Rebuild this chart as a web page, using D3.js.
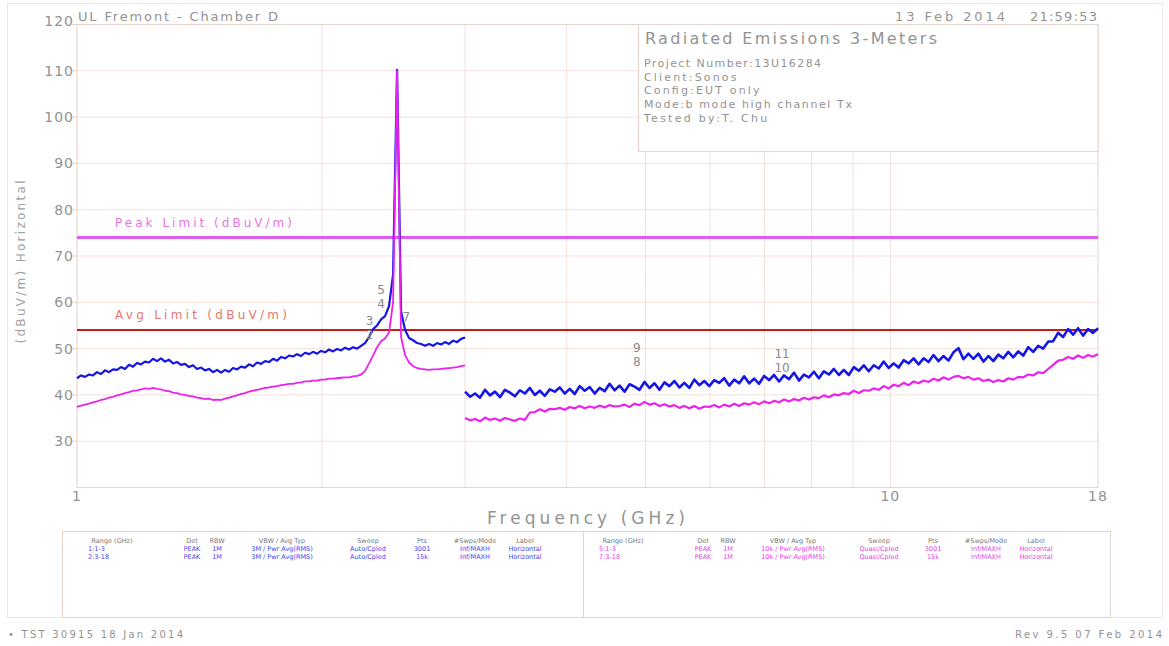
<!DOCTYPE html>
<html>
<head>
<meta charset="utf-8">
<script src="https://d3js.org/d3.v7.min.js"></script>
<style>
  body { margin: 0; background: #fff; }
  text { font-family: "DejaVu Sans", sans-serif; fill: #939393; }
</style>
</head>
<body>
<div id="chart"></div>
<script>
// ---- data ----
var yTicks = [30, 40, 50, 60, 70, 80, 90, 100, 110, 120]
var xTickLabels = [1, 10, 18]
var gridFreqs = [2, 3, 4, 5, 6, 7, 8, 9, 10]
var peakLimit = 74
var avgLimit = 54

// sweep ranges (GHz)
var range1 = [1, 3]
var range2 = [3, 18]

// peak trace, 1-3 GHz (dBuV/m)
var peak1 = [43.6,44.2,43.9,44.4,44.2,44.9,44.5,45.3,44.9,45.5,45.4,46.0,45.6,46.5,46.1,46.9,46.6,47.2,47.0,47.8,
  47.3,47.9,47.2,47.6,46.8,47.1,46.5,46.7,46.0,46.4,45.6,45.9,45.3,45.6,44.9,45.4,44.8,45.4,45.0,45.8,
  45.5,46.1,45.9,46.6,46.2,47.0,46.7,47.3,47.1,47.8,47.4,48.2,47.9,48.5,48.3,48.8,48.4,49.1,48.8,49.3,
  48.9,49.5,49.2,49.8,49.4,49.9,49.6,50.2,49.8,50.3,50.0,50.6,51.2,52.5,54.2,55.0,56.3,57.0,59.2,66.0,
  110.2,58.0,54.0,52.3,51.8,51.2,51.0,50.6,51.0,50.6,51.2,50.9,51.4,51.0,51.7,51.4,52.1,52.4]

// average trace, 1-3 GHz
var avg1 = [37.4,37.7,37.9,38.1,38.4,38.6,38.9,39.1,39.4,39.6,39.9,40.1,40.4,40.6,40.9,41.0,41.2,41.4,41.3,41.5,
  41.3,41.2,40.9,40.8,40.5,40.4,40.1,40.0,39.8,39.7,39.4,39.3,39.1,39.2,38.9,39.0,38.9,39.2,39.4,39.7,
  39.9,40.2,40.4,40.7,40.9,41.1,41.3,41.5,41.6,41.8,41.9,42.1,42.2,42.4,42.4,42.6,42.7,42.9,42.9,43.1,
  43.1,43.3,43.3,43.5,43.5,43.6,43.7,43.8,43.8,44.0,44.1,44.4,45.2,46.8,48.5,50.3,51.6,52.2,53.5,60.0,
  110.0,52.5,48.6,47.0,46.2,45.8,45.6,45.5,45.4,45.5,45.5,45.6,45.7,45.8,45.9,46.0,46.2,46.4]

// peak trace, 3-18 GHz
var peak2 = [40.7,39.6,40.3,39.4,41.1,39.9,40.7,39.5,41.1,40.5,39.7,41.0,40.3,41.5,40.0,40.9,39.8,41.2,40.7,41.6,
  40.3,41.3,40.2,41.9,40.9,41.7,40.3,41.5,40.8,42.4,41.0,42.0,40.7,42.3,41.8,41.1,42.8,41.5,42.5,41.1,
  42.7,41.9,43.0,41.6,42.6,41.5,43.3,42.1,43.0,41.9,43.2,42.6,43.6,42.0,43.3,42.5,44.0,42.5,43.5,42.4,
  44.1,43.2,44.3,42.9,44.2,43.4,44.8,43.1,44.4,43.8,45.0,43.6,45.1,44.4,45.6,44.3,45.4,44.3,46.0,45.2,
  46.4,45.1,46.4,45.7,47.2,45.8,46.8,45.9,47.5,46.8,47.9,46.6,47.9,47.1,48.6,47.3,48.4,47.4,49.2,50.1,
  47.7,48.9,47.8,48.9,47.2,48.4,47.3,48.7,47.9,49.3,48.1,49.4,48.5,50.3,49.3,50.6,50.0,51.5,51.6,53.4,
  52.5,54.2,53.0,54.4,52.8,54.2,53.4,54.4]

// average trace, 3-18 GHz
var avg2 = [35.0,34.5,34.8,34.3,35.1,34.6,34.9,34.4,35.0,34.7,34.4,34.9,34.6,36.2,36.3,36.9,36.4,37.0,36.9,37.2,
  36.8,37.4,37.1,37.6,37.1,37.5,37.2,37.7,37.3,37.8,37.5,37.6,37.9,37.4,38.1,37.8,38.5,37.9,38.2,37.6,
  38.0,37.5,37.8,37.2,37.6,37.1,37.6,37.0,37.5,37.4,37.8,37.3,37.9,37.5,38.1,37.6,38.2,37.9,38.4,38.0,
  38.6,38.2,38.7,38.4,39.0,38.6,39.1,38.8,39.4,39.0,39.5,39.3,39.9,39.5,40.1,39.9,40.4,40.2,40.9,40.4,
  41.0,40.9,41.4,41.1,41.9,41.4,42.2,41.9,42.6,42.1,42.9,42.5,43.1,42.8,43.5,43.1,43.8,43.3,43.9,44.1,
  43.6,43.9,43.3,43.6,43.0,43.3,42.8,43.2,42.9,43.6,43.3,43.9,43.8,44.4,44.2,44.9,44.7,45.6,46.5,47.4,
  47.6,48.2,47.8,48.5,48.0,48.6,48.3,48.8]

// marker labels: number, frequency (GHz), level of label (dB)
var markerNums = ["3", "2", "5", "4", "7", "9", "8", "11", "10"]
var markerFreqs = [2.29, 2.29, 2.365, 2.365, 2.54, 4.88, 4.88, 7.36, 7.36]
var markerLevels = [56.0, 53.0, 62.8, 59.8, 57.0, 50.2, 47.2, 48.9, 45.9]

var infoLines = ["Project Number:13U16284", "Client:Sonos", "Config:EUT only", "Mode:b mode high channel Tx", "Tested by:T. Chu"]

var legendHeaders = ["Range (GHz)", "Det", "RBW", "VBW / Avg Typ", "Sweep", "Pts", "#Swps/Mode", "Label"]
var peakRows = [["1:1-3", "PEAK", "1M", "3M / Pwr Avg(RMS)", "Auto/Cpled", "3001", "Inf/MAXH", "Horizontal"],
                ["2:3-18", "PEAK", "1M", "3M / Pwr Avg(RMS)", "Auto/Cpled", "15k", "Inf/MAXH", "Horizontal"]]
var avgRows = [["5:1-3", "PEAK", "1M", "10k / Pwr Avg(RMS)", "Quasi/Cpled", "3001", "Inf/MAXH", "Horizontal"],
               ["7:3-18", "PEAK", "1M", "10k / Pwr Avg(RMS)", "Quasi/Cpled", "15k", "Inf/MAXH", "Horizontal"]]

// ---- layout ----
var W = 1169, H = 646
var plot = {left: 77, right: 1098, top: 24.5, bottom: 487.5}
var blue = "#1616e4", magenta = "#ec22ec"
var frameCol = "#e6d2c8", gridCol = "#f3e0da"

var svg = d3.select("#chart")
  .append("svg")
    .attr("width", W)
    .attr("height", H)

var x = d3.scaleLog().domain([1, 18]).range([plot.left, plot.right])
var y = d3.scaleLinear().domain([20, 120]).range([plot.bottom, plot.top])

// outer page frame
svg.append("rect")
  .attr("x", 7.5).attr("y", 3.5).attr("width", 1155).attr("height", 614)
  .attr("fill", "none").attr("stroke", "#f1e6df")

// grid
svg.append("g").selectAll("line")
  .data(yTicks.filter(function(d) { return d < 120 }))
  .enter().append("line")
    .attr("x1", plot.left).attr("x2", plot.right)
    .attr("y1", function(d) { return y(d) }).attr("y2", function(d) { return y(d) })
    .attr("stroke", gridCol)

svg.append("g").selectAll("line")
  .data(gridFreqs)
  .enter().append("line")
    .attr("x1", function(d) { return x(d) }).attr("x2", function(d) { return x(d) })
    .attr("y1", plot.top).attr("y2", plot.bottom)
    .attr("stroke", gridCol)

// plot frame
svg.append("rect")
  .attr("x", plot.left).attr("y", plot.top)
  .attr("width", plot.right - plot.left).attr("height", plot.bottom - plot.top)
  .attr("fill", "none").attr("stroke", frameCol)

// y axis ticks + labels
var yAxis = svg.append("g")
yAxis.selectAll("line")
  .data(yTicks)
  .enter().append("line")
    .attr("x1", plot.left - 5).attr("x2", plot.left)
    .attr("y1", function(d) { return y(d) }).attr("y2", function(d) { return y(d) })
    .attr("stroke", frameCol)
yAxis.selectAll("text")
  .data(yTicks)
  .enter().append("text")
    .attr("x", plot.left - 3)
    .attr("y", function(d) { return d == 120 ? y(d) - 4 : y(d) })
    .attr("dy", "0.36em")
    .attr("text-anchor", "end")
    .attr("font-size", 14)
    .attr("letter-spacing", 1)
    .text(function(d) { return d })

svg.append("text")
  .attr("transform", "translate(25,262) rotate(-90)")
  .attr("text-anchor", "middle")
  .attr("font-size", 12)
  .attr("textLength", 163)
  .style("fill", "#a0a0a0")
  .text("(dBuV/m) Horizontal")

// x axis labels
svg.append("g").selectAll("text")
  .data(xTickLabels)
  .enter().append("text")
    .attr("x", function(d) { return x(d) })
    .attr("y", 501)
    .attr("text-anchor", "middle")
    .attr("font-size", 14)
    .attr("letter-spacing", 1)
    .text(function(d) { return d })

svg.append("text")
  .attr("x", 487).attr("y", 524)
  .attr("font-size", 17)
  .attr("textLength", 198)
  .text("Frequency (GHz)")

// header
svg.append("text").attr("x", 78).attr("y", 21).attr("font-size", 13).attr("textLength", 200).text("UL Fremont - Chamber D")
svg.append("text").attr("x", 895).attr("y", 21).attr("font-size", 13).attr("textLength", 110).text("13 Feb 2014")
svg.append("text").attr("x", 1030).attr("y", 21).attr("font-size", 13).attr("textLength", 67).text("21:59:53")

// limit lines
svg.append("line")
  .attr("x1", plot.left).attr("x2", plot.right)
  .attr("y1", y(peakLimit)).attr("y2", y(peakLimit))
  .attr("stroke", "#de5cee").attr("stroke-width", 3)
svg.append("text").attr("x", 115).attr("y", 227).attr("font-size", 12).attr("textLength", 177)
  .style("fill", "#ea74e2").text("Peak Limit (dBuV/m)")

svg.append("line")
  .attr("x1", plot.left).attr("x2", plot.right)
  .attr("y1", y(avgLimit)).attr("y2", y(avgLimit))
  .attr("stroke", "#cc1818").attr("stroke-width", 2)
svg.append("text").attr("x", 115).attr("y", 319).attr("font-size", 12).attr("textLength", 172)
  .style("fill", "#e8766f").text("Avg Limit (dBuV/m)")

// traces: points are spread evenly (log) across each sweep range
function sweepPoints(range, values) {
  var n = values.length
  return values.map(function(v, i) {
    var fr = range[0] * Math.pow(range[1] / range[0], i / (n - 1))
    return [fr, v]
  })
}

var line = d3.line()
  .x(function(d) { return x(d[0]) })
  .y(function(d) { return y(d[1]) })

var traces = [
  {vals: peak1, range: range1, col: blue, w: 2.2},
  {vals: peak2, range: range2, col: blue, w: 2.6},
  {vals: avg1, range: range1, col: magenta, w: 1.8},
  {vals: avg2, range: range2, col: magenta, w: 2.2}
]
svg.append("g").selectAll("path")
  .data(traces)
  .enter().append("path")
    .attr("d", function(d) { return line(sweepPoints(d.range, d.vals)) })
    .attr("fill", "none")
    .attr("stroke", function(d) { return d.col })
    .attr("stroke-width", function(d) { return d.w })
    .attr("stroke-linejoin", "round")

// marker numbers
svg.append("g").selectAll("text")
  .data(markerNums)
  .enter().append("text")
    .attr("x", function(d, i) { return x(markerFreqs[i]) })
    .attr("y", function(d, i) { return y(markerLevels[i]) })
    .attr("dy", "0.36em")
    .attr("text-anchor", "middle")
    .attr("font-size", 12)
    .style("fill", "#8a8a8a")
    .text(function(d) { return d })

// info box
svg.append("rect")
  .attr("x", 638.5).attr("y", plot.top).attr("width", plot.right - 638.5).attr("height", 127)
  .attr("fill", "#fff").attr("stroke", frameCol)
svg.append("text").attr("x", 645).attr("y", 44).attr("font-size", 16).attr("textLength", 292)
  .text("Radiated Emissions 3-Meters")
svg.append("g").selectAll("text")
  .data(infoLines)
  .enter().append("text")
    .attr("x", 644)
    .attr("y", function(d, i) { return 67 + i * 13.7 })
    .attr("font-size", 11)
    .attr("textLength", function(d) { return d.length * 7.7 })
    .text(function(d) { return d })

// legend table
svg.append("rect")
  .attr("x", 62.5).attr("y", 531.5).attr("width", 1048).attr("height", 86)
  .attr("fill", "none").attr("stroke", frameCol)
svg.append("line")
  .attr("x1", 583.5).attr("x2", 583.5).attr("y1", 531.5).attr("y2", 617.5)
  .attr("stroke", frameCol)

function legendTable(x0, rows, col) {
  var cols = [50, 130, 155, 220, 306, 360, 413, 463]
  var g = svg.append("g")
  legendHeaders.forEach(function(h, j) {
    g.append("text")
      .attr("x", x0 + cols[j]).attr("y", 543)
      .attr("text-anchor", "middle").attr("font-size", 6.5)
      .style("fill", "#777")
      .text(h)
  })
  rows.forEach(function(r, i) {
    r.forEach(function(c, j) {
      g.append("text")
        .attr("x", j == 0 ? x0 + 26 : x0 + cols[j])
        .attr("y", 551 + i * 8)
        .attr("text-anchor", j == 0 ? "start" : "middle").attr("font-size", 6.5)
        .style("fill", col)
        .text(c)
    })
  })
}
legendTable(62, peakRows, "#4444e8")
legendTable(573, avgRows, "#e044e0")

// footer
svg.append("text").attr("x", 8).attr("y", 638).attr("font-size", 10).attr("textLength", 175).text("\u2022 TST 30915 18 Jan 2014")
svg.append("text").attr("x", 1015).attr("y", 638).attr("font-size", 10).attr("textLength", 147).text("Rev 9.5 07 Feb 2014")
</script>
</body>
</html>
